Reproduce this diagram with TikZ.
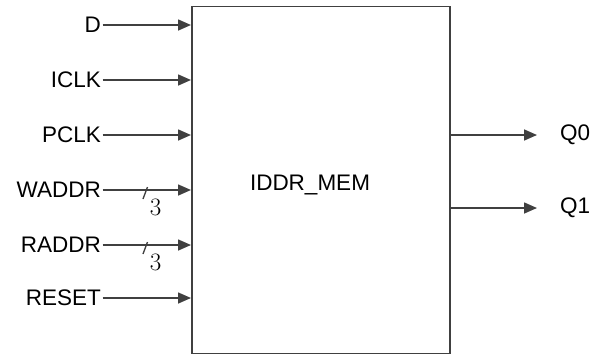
\documentclass[tikz,border=0pt]{standalone}
\usepackage{fontspec}
\setmainfont{Liberation Sans}
\newfontfamily\lmrm{Latin Modern Roman}
\usetikzlibrary{arrows.meta}
\definecolor{ln}{HTML}{404040}
\begin{document}
\begin{tikzpicture}[x=1pt,y=-1pt,
  lbl/.style={inner sep=0pt,font=\fontsize{22.5}{26}\selectfont},
  num/.style={inner sep=0pt,font=\lmrm\fontsize{25}{28}\selectfont},
  wire/.style={draw=ln,line width=1.6pt,-{Triangle[length=13pt,width=11pt]}},
  blk/.style={draw=ln,line width=1.8pt,fill=white}]
\useasboundingbox (0,0) rectangle (593,354);
\node[blk,minimum width=258pt,minimum height=347pt,anchor=north west,inner sep=0pt] (mem) at (191,5.5) {};
\node[lbl] (title) at (310,185) {IDDR\_MEM};
\foreach \n/\t/\yy in {d/D/25,iclk/ICLK/80,pclk/PCLK/135,waddr/WADDR/190,raddr/RADDR/245,reset/RESET/298}{
  \node[lbl,anchor=east] (\n) at (101,\yy) {\t};
  \coordinate (\n e) at (mem.west |- \n.east);
  \draw[wire] (\n.east) ++(1.5,0) -- (\n e);
}
\draw[ln,line width=1.3pt] (143,199) -- (147.5,187);
\draw[ln,line width=1.3pt] (143,254) -- (147.5,242);
\node[num] (w3) at (155.5,207) {3};
\node[num] (r3) at (155.5,262) {3};
\node[lbl,anchor=west] (q0) at (560,135) {Q0};
\node[lbl,anchor=west] (q1) at (560,208) {Q1};
\coordinate (q0t) at (537,135);
\coordinate (q1t) at (537,208);
\draw[wire] (mem.east |- q0t) -- (q0t);
\draw[wire] (mem.east |- q1t) -- (q1t);
\end{tikzpicture}
\end{document}
